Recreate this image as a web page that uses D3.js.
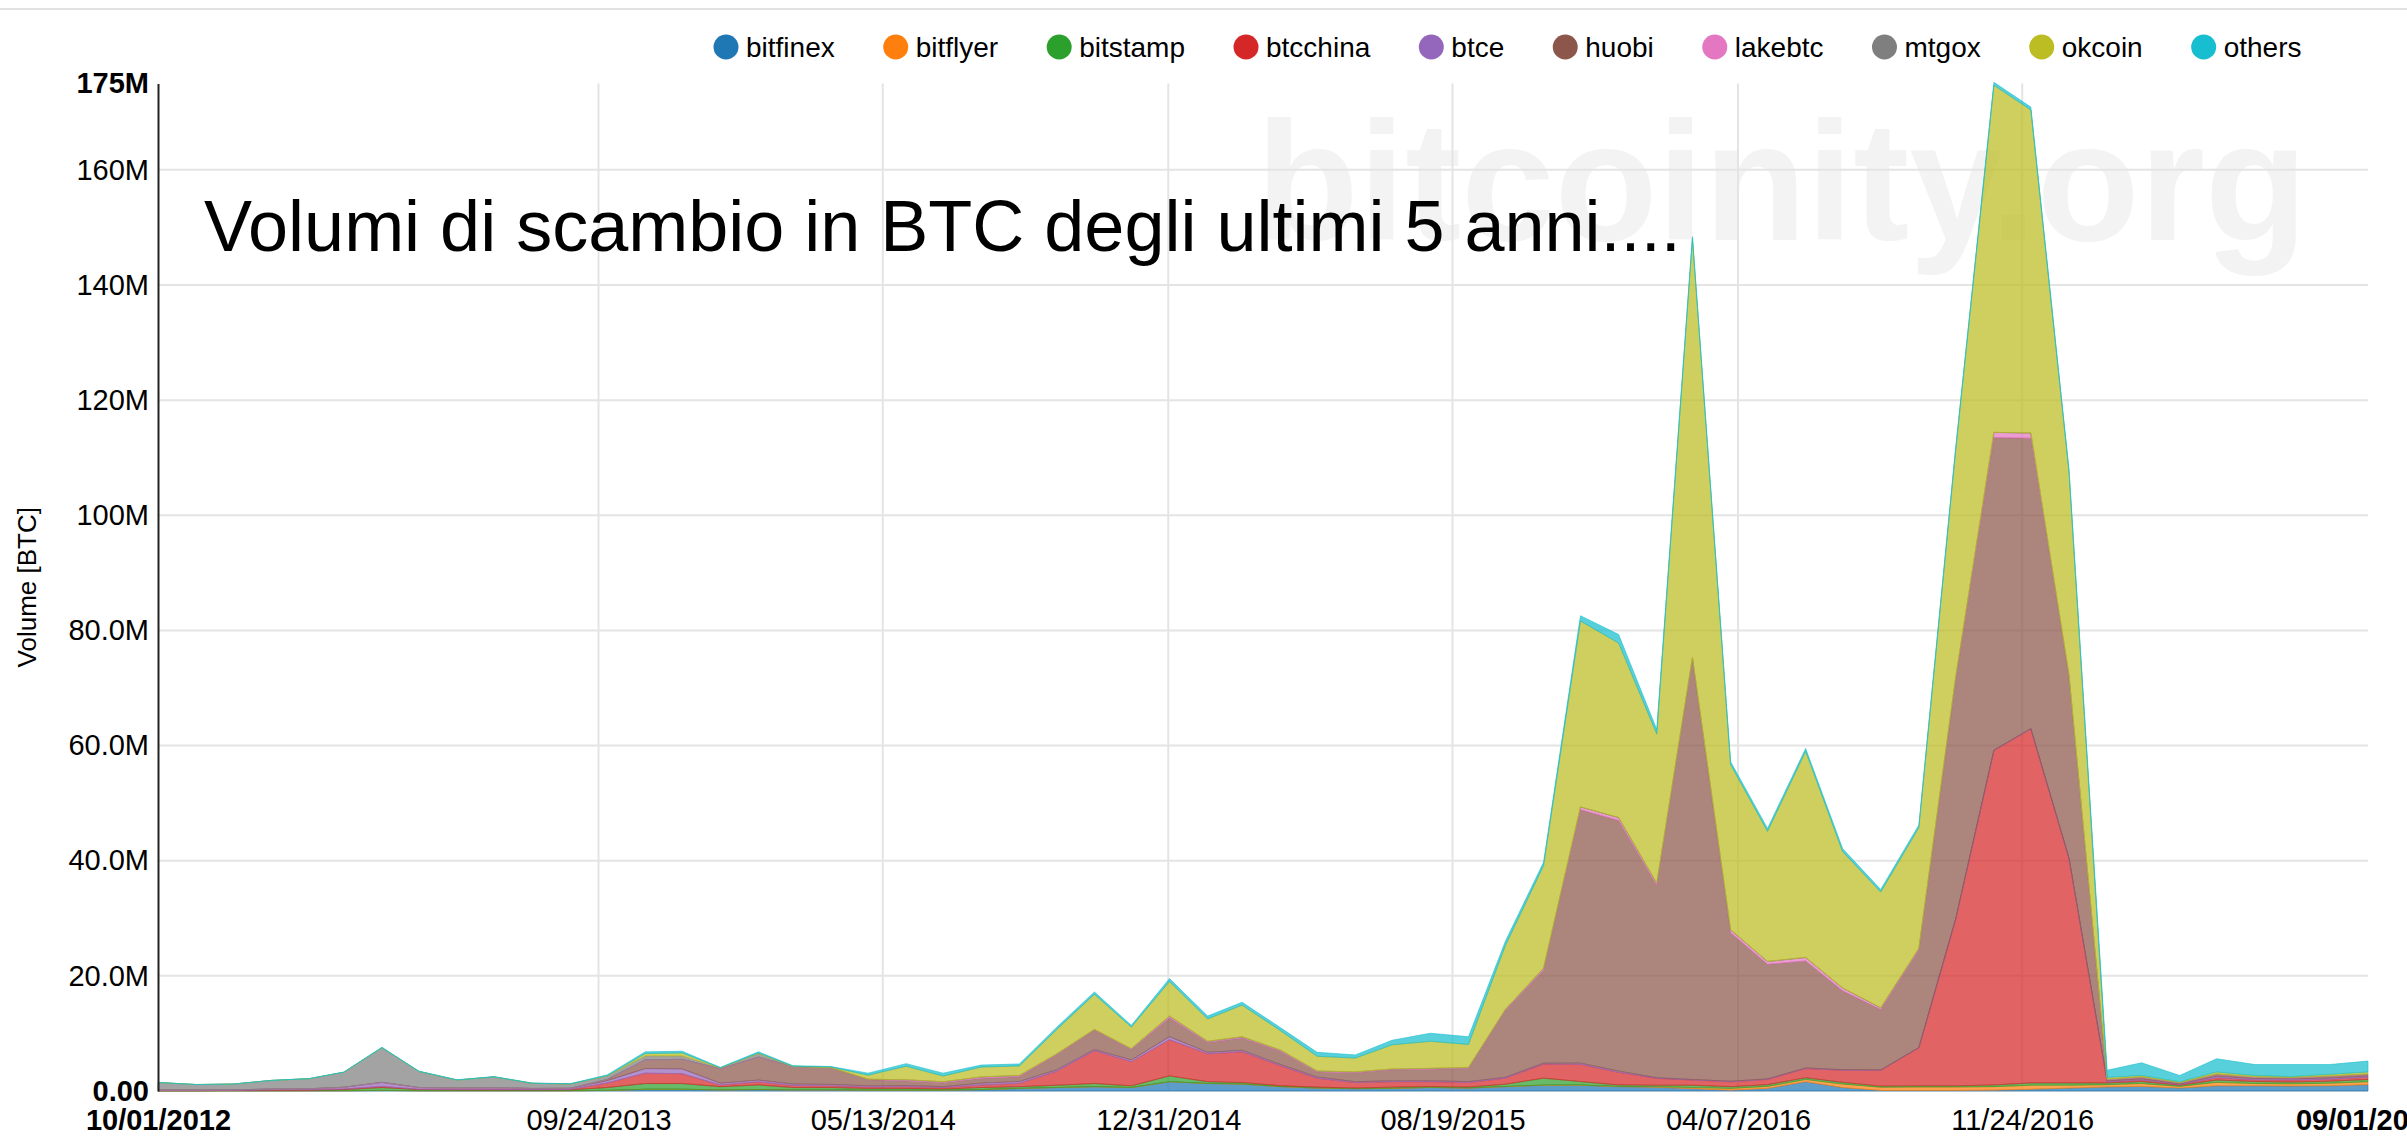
<!DOCTYPE html>
<html>
<head>
<meta charset="utf-8">
<script src="https://cdn.jsdelivr.net/npm/d3@7"></script>
<style>
  body { margin: 0; background: #fff; overflow: hidden; }
  svg { display: block; font-family: "Liberation Sans", Arial, sans-serif; }
</style>
</head>
<body>
<div id="chart"></div>
<script>
// one sample per month (first day of month)
var months = [
  '2012-10','2012-11','2012-12','2013-01','2013-02','2013-03','2013-04','2013-05','2013-06','2013-07','2013-08','2013-09',
  '2013-10','2013-11','2013-12','2014-01','2014-02','2014-03','2014-04','2014-05','2014-06','2014-07','2014-08','2014-09',
  '2014-10','2014-11','2014-12','2015-01','2015-02','2015-03','2015-04','2015-05','2015-06','2015-07','2015-08','2015-09',
  '2015-10','2015-11','2015-12','2016-01','2016-02','2016-03','2016-04','2016-05','2016-06','2016-07','2016-08','2016-09',
  '2016-10','2016-11','2016-12','2017-01','2017-02','2017-03','2017-04','2017-05','2017-06','2017-07','2017-08','2017-09'
];

var exchanges = ['bitfinex', 'bitflyer', 'bitstamp', 'btcchina', 'btce', 'huobi', 'lakebtc', 'mtgox', 'okcoin', 'others'];
var colors    = ['#1f77b4', '#ff7f0e', '#2ca02c', '#d62728', '#9467bd', '#8c564b', '#e377c2', '#7f7f7f', '#bcbd22', '#17becf'];

// volumes, millions of BTC
var bitfinex = [
  0.02,0.02,0.03,0.03,0.04,0.05,0.1,0.05,0.05,0.05,0.05,0.05,
  0.1,0.3,0.3,0.2,0.25,0.2,0.2,0.15,0.15,0.15,0.25,0.45,
  0.6,0.75,0.6,1.6,1.3,1.2,0.75,0.5,0.4,0.45,0.6,0.5,
  0.75,1.0,1.0,0.75,0.65,0.4,0.15,0.45,1.6,0.6,0.1,0.1,
  0.1,0.15,0.3,0.5,0.7,0.8,0.5,0.9,0.9,0.85,0.9,1.1
];
var bitflyer = [
  0,0,0,0,0,0,0,0,0,0,0,0,
  0,0,0,0,0,0,0,0,0,0,0,0,
  0,0,0,0.02,0.02,0.02,0.02,0.02,0.02,0.02,0.03,0.03,
  0.03,0.03,0.04,0.05,0.1,0.2,0.3,0.35,0.4,0.6,0.55,0.6,
  0.6,0.6,0.7,0.5,0.4,0.5,0.3,0.6,0.4,0.4,0.45,0.5
];
var bitstamp = [
  0.05,0.05,0.07,0.1,0.1,0.2,0.5,0.2,0.15,0.15,0.15,0.15,
  0.5,1.0,1.0,0.55,0.8,0.4,0.4,0.3,0.3,0.2,0.35,0.3,
  0.4,0.55,0.3,1.0,0.3,0.25,0.15,0.15,0.1,0.2,0.15,0.15,
  0.4,1.2,0.6,0.25,0.25,0.4,0.3,0.3,0.3,0.3,0.2,0.2,
  0.2,0.3,0.4,0.4,0.3,0.35,0.2,0.4,0.35,0.3,0.35,0.4
];
var btcchina = [
  0,0,0,0.05,0.05,0.1,0.2,0.05,0.05,0.05,0.04,0.07,
  0.8,1.8,1.7,0.3,0.55,0.35,0.3,0.25,0.3,0.25,0.45,0.6,
  2.4,5.7,4.2,6.3,4.85,5.35,3.5,1.55,0.95,0.95,0.85,0.8,
  1.05,2.45,3.0,2.2,1.2,0.9,0.85,0.9,1.6,2.1,2.75,6.6,
  29,58.1,61.5,39,0.2,0.25,0.15,0.4,0.3,0.35,0.35,0.4
];
var btce = [
  0.1,0.1,0.1,0.15,0.2,0.3,0.7,0.3,0.25,0.3,0.2,0.2,
  0.4,0.8,0.85,0.3,0.3,0.25,0.25,0.2,0.2,0.15,0.3,0.3,
  0.25,0.2,0.3,0.5,0.25,0.25,0.2,0.2,0.15,0.15,0.15,0.15,
  0.15,0.15,0.2,0.2,0.1,0.1,0.1,0.1,0.1,0.1,0.05,0.05,
  0.05,0.05,0.05,0.05,0.15,0.2,0.1,0.25,0.2,0.2,0.2,0.2
];
var huobi = [
  0,0,0,0,0,0,0,0,0,0,0,0,
  0.2,1.5,1.65,2.5,4.0,3.05,2.9,1.1,0.8,0.7,0.85,0.85,
  2.6,3.4,1.8,3.3,1.7,2.15,2.3,0.9,1.55,1.9,2.0,2.3,
  11.6,16.2,44.0,43.55,33.4,73.0,25.8,19.9,18.6,13.7,10.5,16.9,
  41.5,54.3,50.45,31.5,0.2,0.25,0.15,0.3,0.2,0.15,0.25,0.25
];
var lakebtc = [
  0,0,0,0,0,0,0,0,0,0,0,0,
  0,0,0,0,0,0,0,0.05,0.2,0.15,0.25,0.2,
  0.15,0.1,0.15,0.3,0.2,0.2,0.2,0.15,0.15,0.15,0.15,0.15,
  0.2,0.3,0.5,0.5,0.4,0.3,0.5,0.5,0.6,0.5,0.3,0.3,
  0.5,0.9,0.9,0.3,0.1,0.1,0.05,0.1,0.1,0.1,0.1,0.1
];
var mtgox = [
  1.3,0.95,1.0,1.5,1.75,2.6,6.0,2.8,1.4,1.9,0.9,0.75,
  0.6,0.7,0.6,0.15,0.6,0,0,0,0,0,0,0,
  0,0,0,0,0,0,0,0,0,0,0,0,
  0,0,0,0,0,0,0,0,0,0,0,0,
  0,0,0,0,0,0,0,0,0,0,0,0
];
var okcoin = [
  0,0,0,0,0,0,0,0,0,0,0,0,
  0.05,0.4,0.5,0.05,0.1,0.05,0.1,0.7,2.35,1.0,1.7,1.65,
  4.2,6.1,3.75,6.0,3.9,5.5,3.4,2.55,2.4,4.2,4.7,4.0,
  11.1,17.8,32.3,30.3,25.9,72.7,28.7,22.6,35.8,23.7,20.1,21.0,
  39.5,60.3,56.1,35.3,0.3,0.25,0.15,0.35,0.25,0.15,0.3,0.35
];
var others = [
  0.01,0.01,0.01,0.02,0.02,0.05,0.1,0.05,0.05,0.05,0.05,0.05,
  0.15,0.3,0.3,0.05,0.2,0.1,0.1,0.35,0.45,0.5,0.35,0.35,
  0.4,0.4,0.3,0.5,0.5,0.5,0.5,0.7,0.55,0.8,1.4,1.35,
  0.75,0.6,0.9,1.5,0.8,0.4,0.5,0.5,0.5,0.5,0.45,0.45,
  0.5,0.5,0.5,0.45,1.25,2.2,1.1,2.3,1.9,2.1,1.7,1.9
];

var xTickLabels = ['10/01/2012', '09/24/2013', '05/13/2014', '12/31/2014', '08/19/2015', '04/07/2016', '11/24/2016', '09/01/2017'];
var yTickValues = [0, 20, 40, 60, 80, 100, 120, 140, 160, 175];
var yTickLabels = ['0.00', '20.0M', '40.0M', '60.0M', '80.0M', '100M', '120M', '140M', '160M', '175M'];

var volumes = {
  bitfinex: bitfinex, bitflyer: bitflyer, bitstamp: bitstamp, btcchina: btcchina, btce: btce,
  huobi: huobi, lakebtc: lakebtc, mtgox: mtgox, okcoin: okcoin, others: others
};

// MAIN
var W = 2407, H = 1140;
var margin = { top: 83.5, right: 39, bottom: 49, left: 158 };
var width  = W - margin.left - margin.right;
var height = H - margin.top - margin.bottom;

var parseMonth = d3.timeParse('%Y-%m');
var parseTick  = d3.timeParse('%m/%d/%Y');
var xTickDates = xTickLabels.map(parseTick);

// one row per month, one column per exchange
var rows = months.map(function(m, i) {
  var row = { date: parseMonth(m) };
  exchanges.forEach(function(k) { row[k] = volumes[k][i]; });
  return row;
});

var series = d3.stack().keys(exchanges)(rows);

var color = d3.scaleOrdinal().domain(exchanges).range(colors);

var x = d3.scaleTime()
  .domain([xTickDates[0], xTickDates[xTickDates.length - 1]])
  .range([0, width]);

var y = d3.scaleLinear()
  .domain([0, 175])
  .range([height, 0]);

var svg = d3.select('#chart').append('svg')
  .attr('width', W)
  .attr('height', H);

// thin border along the top
svg.append('rect')
  .attr('x', 0).attr('y', 8)
  .attr('width', W).attr('height', 2)
  .attr('fill', '#e2e2e2');

// watermark behind everything
svg.append('text')
  .attr('x', 1256)
  .attr('y', 240)
  .style('font-size', '168px')
  .style('font-weight', 'bold')
  .style('fill', '#f3f3f3')
  .text('bitcoinity.org');

var g = svg.append('g')
  .attr('transform', 'translate(' + margin.left + ',' + margin.top + ')');

// horizontal grid
g.append('g')
  .selectAll('line')
  .data(yTickValues.filter(function(v) { return v < 175; }))
  .enter().append('line')
    .attr('x1', 0).attr('x2', width)
    .attr('y1', function(d) { return y(d); })
    .attr('y2', function(d) { return y(d); })
    .attr('stroke', '#e4e4e4')
    .attr('stroke-width', 2);

// vertical grid (inner ticks only)
g.append('g')
  .selectAll('line')
  .data(xTickDates.slice(1, -1))
  .enter().append('line')
    .attr('x1', function(d) { return x(d); })
    .attr('x2', function(d) { return x(d); })
    .attr('y1', 0).attr('y2', height)
    .attr('stroke', '#e4e4e4')
    .attr('stroke-width', 2);

// stacked areas
var area = d3.area()
  .x(function(d) { return x(d.data.date); })
  .y0(function(d) { return y(d[0]); })
  .y1(function(d) { return y(d[1]); });

g.append('g')
  .selectAll('path')
  .data(series)
  .enter().append('path')
    .attr('d', area)
    .attr('fill', function(d) { return color(d.key); })
    .attr('fill-opacity', 0.72)
    .attr('stroke', function(d) { return color(d.key); })
    .attr('stroke-width', 1)
    .attr('stroke-opacity', 0.6);

// y axis
var yAxis = d3.axisLeft(y)
  .tickValues(yTickValues)
  .tickFormat(function(d, i) { return yTickLabels[i]; })
  .tickSize(0)
  .tickPadding(9);

var yGuide = g.append('g').call(yAxis);
yGuide.select('.domain').attr('stroke', '#222').attr('stroke-width', 2);
yGuide.selectAll('text')
  .style('font-size', '29px')
  .style('font-family', '"Liberation Sans", Arial, sans-serif')
  .style('fill', '#000')
  .style('font-weight', function(d) { return (d === 0 || d === 175) ? 'bold' : 'normal'; });

// x axis
var xAxis = d3.axisBottom(x)
  .tickValues(xTickDates)
  .tickFormat(function(d, i) { return xTickLabels[i]; })
  .tickSize(0);

var xGuide = g.append('g')
  .attr('transform', 'translate(0,' + height + ')')
  .call(xAxis);
xGuide.select('.domain').remove();
xGuide.selectAll('text')
  .attr('y', 39)
  .attr('dy', 0)
  .style('font-size', '29px')
  .style('font-family', '"Liberation Sans", Arial, sans-serif')
  .style('fill', '#000')
  .style('font-weight', function(d, i) { return (i === 0 || i === xTickLabels.length - 1) ? 'bold' : 'normal'; });

// y axis label
svg.append('text')
  .attr('transform', 'translate(36,' + (margin.top + height / 2) + ') rotate(-90)')
  .style('text-anchor', 'middle')
  .style('font-size', '26px')
  .style('fill', '#000')
  .text('Volume [BTC]');

// title
svg.append('text')
  .attr('x', 204)
  .attr('y', 251)
  .style('font-size', '72px')
  .style('fill', '#000')
  .text('Volumi di scambio in BTC degli ultimi 5 anni....');

// legend, laid out left to right
var legend = svg.append('g').attr('transform', 'translate(726,47)');
var lx = 0;
exchanges.forEach(function(k) {
  var item = legend.append('g').attr('transform', 'translate(' + lx + ',0)');
  item.append('circle')
    .attr('r', 12.5)
    .attr('fill', color(k));
  var t = item.append('text')
    .attr('x', 20)
    .attr('dy', '0.35em')
    .style('font-size', '28px')
    .style('fill', '#000')
    .text(k);
  lx += 20 + t.node().getComputedTextLength() + 61;
});
</script>
</body>
</html>
